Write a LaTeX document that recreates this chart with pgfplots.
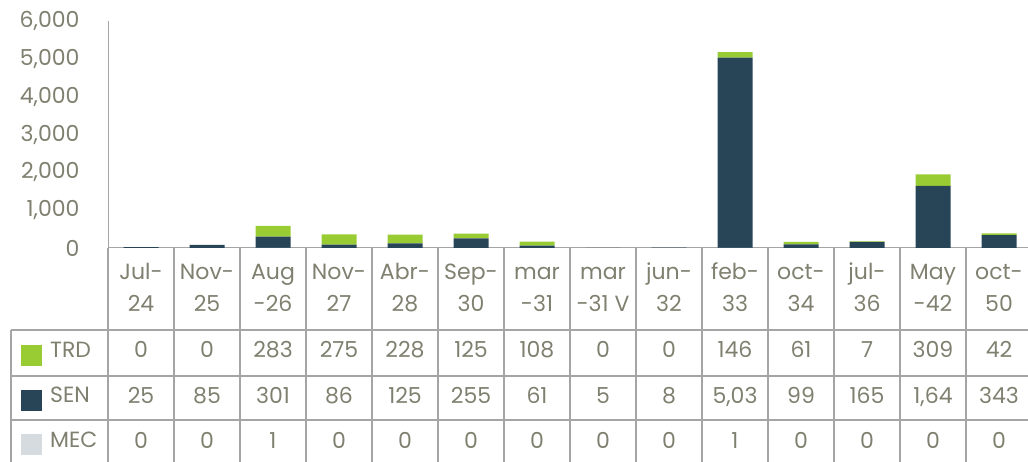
\documentclass[border=0pt]{standalone}
\usepackage{pgfplots}
\pgfplotsset{compat=1.18}
\usepackage{fontspec}
\setmainfont{Poppins}
\definecolor{trd}{RGB}{153,204,51}
\definecolor{sen}{RGB}{40,69,88}
\definecolor{mec}{RGB}{214,219,223}
\definecolor{txt}{RGB}{128,128,112}
\definecolor{grid}{RGB}{165,165,165}
\begin{document}
\fontsize{22}{26}\selectfont
\begin{tikzpicture}[x=1pt,y=1pt]
\begin{axis}[
  at={(108pt,-248pt)}, anchor=south west,
  scale only axis, width=924pt, height=227pt,
  xmin=-0.5, xmax=13.5, ymin=0, ymax=6000,
  ybar stacked, bar width=35pt,
  axis x line*=bottom, axis y line*=left,
  axis line style={grid, line width=1pt},
  xtick=\empty,
  ytick={0,1000,2000,3000,4000,5000,6000},
  major tick length=0pt,
  /pgf/number format/assume math mode=true,
  /pgf/number format/1000 sep={,},
  yticklabel style={font=\fontsize{22}{26}\selectfont, text=txt, xshift=-21pt},
  clip=false,
]
\addplot[fill=mec, draw=none] coordinates {
(0,0) (1,0) (2,1) (3,0) (4,0) (5,0) (6,0) (7,0) (8,0) (9,1) (10,0) (11,0) (12,0) (13,0)};
\addplot[fill=sen, draw=none] coordinates {
(0,25) (1,85) (2,301) (3,86) (4,125) (5,255) (6,61) (7,5) (8,8) (9,5030) (10,99) (11,165) (12,1640) (13,343)};
\addplot[fill=trd, draw=none] coordinates {
(0,0) (1,0) (2,283) (3,275) (4,228) (5,125) (6,108) (7,0) (8,0) (9,146) (10,61) (11,7) (12,309) (13,42)};
\end{axis}
% table grid
\begin{scope}[grid, line width=1.1pt]
\foreach \i in {0,...,14} { \draw (108+66*\i,-248) -- (108+66*\i,-462); }
\draw (11,-330) -- (11,-462);
\foreach \yy in {330,376,420} { \draw (11,-\yy) -- (1040,-\yy); }
\end{scope}
% category labels
\foreach \a/\b [count=\i from 0] in {Jul-/24,Nov-/25,Aug/-26,Nov-/27,Abr-/28,Sep-/30,mar/-31,mar/-31 V,jun-/32,feb-/33,oct-/34,jul-/36,May/-42,oct-/50} {
  \node[text=txt, anchor=base] at (141+66*\i,-280) {\a};
  \node[text=txt, anchor=base] at (141+66*\i,-312) {\b};
}
\foreach \v [count=\i from 0] in {0,0,283,275,228,125,108,0,0,146,61,7,309,42} {
  \node[text=txt, anchor=base] at (141+66*\i,-357) {\v};
}
\foreach \v [count=\i from 0] in {25,85,301,86,125,255,61,5,8,{5,03},99,165,{1,64},343} {
  \node[text=txt, anchor=base] at (141+66*\i,-403) {\v};
}
\foreach \v [count=\i from 0] in {0,0,1,0,0,0,0,0,0,1,0,0,0,0} {
  \node[text=txt, anchor=base] at (141+66*\i,-448) {\v};
}
% legend keys
\fill[trd] (21,-345) rectangle (42,-366);
\fill[sen] (21,-390) rectangle (42,-411);
\fill[mec] (21,-434) rectangle (42,-455);
\node[text=txt, anchor=base west, inner sep=0pt] at (50,-357) {TRD};
\node[text=txt, anchor=base west, inner sep=0pt] at (50,-402) {SEN};
\node[text=txt, anchor=base west, inner sep=0pt] at (50,-447) {MEC};
\pgfresetboundingbox
\path[use as bounding box] (0,0) rectangle (1028,-462);
\end{tikzpicture}
\end{document}
